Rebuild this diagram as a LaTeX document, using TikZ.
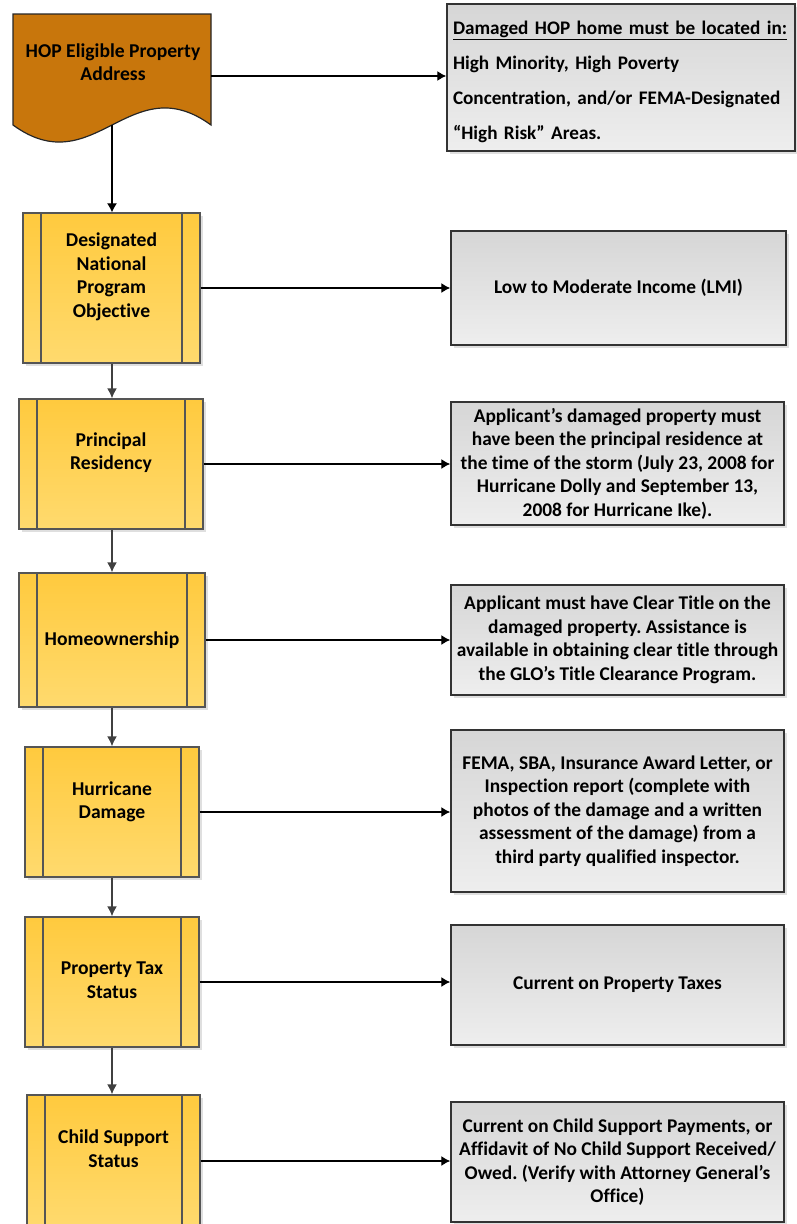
\documentclass[tikz,border=0pt]{standalone}
\usepackage{fontspec}
\setmainfont{Carlito}[Ligatures={NoCommon}]
\usetikzlibrary{arrows.meta,shadows}
\frenchspacing
\definecolor{ytop}{RGB}{255,202,62}
\definecolor{ybot}{RGB}{255,218,110}
\definecolor{pgray}{RGB}{85,85,85}
\definecolor{gtop}{RGB}{214,214,214}
\definecolor{gbot}{RGB}{238,238,238}
\definecolor{docfill}{RGB}{200,118,12}
\definecolor{agray}{RGB}{64,64,64}
\tikzset{
  proc/.style={draw=pgray, line width=1.3pt, top color=ytop, bottom color=ybot,
    inner sep=0pt, drop shadow={opacity=0.25, shadow xshift=3pt, shadow yshift=-3pt},
    path picture={\draw[pgray, line width=1.3pt]
      ([xshift=18pt]path picture bounding box.north west) -- ([xshift=18pt]path picture bounding box.south west)
      ([xshift=-18pt]path picture bounding box.north east) -- ([xshift=-18pt]path picture bounding box.south east);}},
  ptext/.style={font=\bfseries\fontsize{19.6}{23.5}\selectfont, align=center, text=black, inner sep=0pt},
  rbox/.style={draw=black!80, line width=1.5pt, top color=gtop, bottom color=gbot,
    drop shadow={opacity=0.25, shadow xshift=3pt, shadow yshift=-3pt},
    font=\bfseries\fontsize{19.4}{23.5}\selectfont, align=center, inner sep=0pt},
  harrow/.style={draw=black, line width=1.2pt, -{Latex[length=9pt,width=10pt]}},
  varrow/.style={draw=agray, line width=1.6pt, -{Latex[length=10pt,width=10pt]}},
}
\begin{document}
\begin{tikzpicture}[x=1pt,y=-1pt]
\useasboundingbox (0,0) rectangle (797,1224);

% document shape
\draw[draw=black!85, line width=1.2pt, fill=docfill]
  (13,14) -- (211,14) -- (211,125) .. controls (130,66) and (94,184) .. (13,125) -- cycle;
\node[ptext] (doc) at (113,62) {HOP Eligible Property\\Address};
\coordinate (docR) at (211,76);
\coordinate (docB) at (112,125);

% process boxes
\node[proc, minimum width=177pt, minimum height=150pt] (p2) at (111.5,288) {};
\node[ptext] (t2) at (111.5,277) {Designated\\National\\Program\\Objective};
\node[proc, minimum width=184pt, minimum height=130pt] (p3) at (111,464) {};
\node[ptext] (t3) at (111,452.5) {Principal\\Residency};
\node[proc, minimum width=186pt, minimum height=134pt] (p4) at (112,640) {};
\node[ptext] (t4) at (112,640) {Homeownership};
\node[proc, minimum width=174pt, minimum height=130pt] (p5) at (112,812) {};
\node[ptext] (t5) at (112,802) {Hurricane\\Damage};
\node[proc, minimum width=174pt, minimum height=130pt] (p6) at (112,982) {};
\node[ptext] (t6) at (112,980) {Property Tax\\Status};
\node[proc, minimum width=173pt, minimum height=132pt] (p7) at (113.5,1161) {};
\node[ptext] (t7) at (113.5,1148.5) {Child Support\\Status};

% right boxes
\node[rbox, minimum width=348pt, minimum height=147pt] (r1) at (621,77.5) {};
\node[text width=336pt, align=left, inner sep=0pt,
      font=\bfseries\fontsize{19.2}{35}\selectfont] (r1t) at (621,82)
  {\underline{Damaged HOP home must be located in:}\\High Minority, High Poverty\\Concentration, and/or FEMA-Designated\\“High Risk” Areas.};
\node[rbox, minimum width=335pt, minimum height=114pt] (r2) at (618.5,288) {Low to Moderate Income (LMI)};
\node[rbox, minimum width=333pt, minimum height=123pt] (r3) at (617.5,463.5)
  {Applicant’s damaged property must\\have been the principal residence at\\the time of the storm (July 23, 2008 for\\Hurricane Dolly and September 13,\\2008 for Hurricane Ike).};
\node[rbox, minimum width=333pt, minimum height=110pt] (r4) at (617.5,640)
  {Applicant must have Clear Title on the\\damaged property. Assistance is\\available in obtaining clear title through\\the GLO’s Title Clearance Program.};
\node[rbox, minimum width=333pt, minimum height=162pt] (r5) at (617.5,811)
  {FEMA, SBA, Insurance Award Letter, or\\Inspection report (complete with\\photos of the damage and a written\\assessment of the damage) from a\\third party qualified inspector.};
\node[rbox, minimum width=333pt, minimum height=120pt] (r6) at (617.5,985) {Current on Property Taxes};
\node[rbox, minimum width=333pt, minimum height=120pt] (r7) at (617.5,1162)
  {Current on Child Support Payments, or\\Affidavit of No Child Support Received/\\Owed. (Verify with Attorney General’s\\Office)};

% horizontal connectors
\draw[harrow] (docR) -- (docR -| r1.west);
\draw[harrow] (p2.east) -- (p2.east -| r2.west);
\draw[harrow] (p3.east) -- (p3.east -| r3.west);
\draw[harrow] (p4.east) -- (p4.east -| r4.west);
\draw[harrow] (p5.east) -- (p5.east -| r5.west);
\draw[harrow] (p6.east) -- (p6.east -| r6.west);
\draw[harrow] (p7.east) -- (p7.east -| r7.west);

% vertical connectors
\draw[harrow] (docB) -- (docB |- p2.north);
\draw[varrow] (p2.south -| docB) -- (docB |- p3.north);
\draw[varrow] (p3.south -| docB) -- (docB |- p4.north);
\draw[varrow] (p4.south -| docB) -- (docB |- p5.north);
\draw[varrow] (p5.south -| docB) -- (docB |- p6.north);
\draw[varrow] (p6.south -| docB) -- (docB |- p7.north);
\end{tikzpicture}
\end{document}
